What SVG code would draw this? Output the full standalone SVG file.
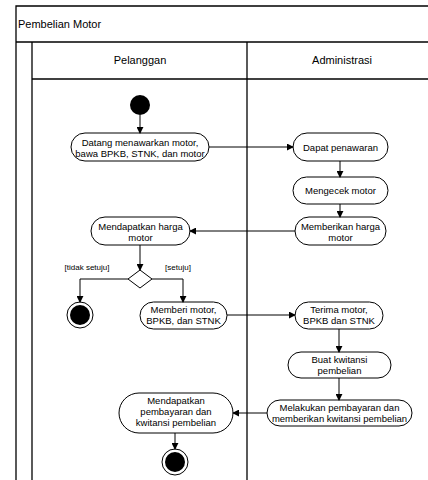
<svg xmlns="http://www.w3.org/2000/svg" width="428" height="480" viewBox="0 0 428 480">
<style>
text{font-family:"Liberation Sans",Arial,sans-serif;fill:#000}
.t{font-size:9.5px;text-anchor:middle}
.h{font-size:11px;text-anchor:middle}
.frame{stroke:#000;stroke-width:1.3;fill:none}
.node rect{fill:#fff;stroke:#000;stroke-width:1}
.c path,.c line,.c polyline{stroke:#000;stroke-width:1;fill:none;marker-end:url(#ah)}
.lbl{font-size:8px;text-anchor:middle}
</style>
<defs>
<marker id="ah" viewBox="0 0 8 8" refX="7" refY="4" markerWidth="7" markerHeight="7" markerUnits="userSpaceOnUse" orient="auto">
<path d="M0,0 L8,4 L0,8 Z" fill="#000"/>
</marker>
</defs>
<rect width="428" height="480" fill="#fff"/>
<g id="pool" class="frame">
<path d="M16,480 V6 H430"/>
<path d="M16,42 H430"/>
<path d="M32,42 V480"/>
<path d="M247,42 V480"/>
<path d="M32,79 H430"/>
</g>
<text x="18" y="28" style="font-size:11px">Pembelian Motor</text>
<text class="h" x="140" y="64">Pelanggan</text>
<text class="h" x="342" y="64">Administrasi</text>

<g id="start"><circle cx="140" cy="105" r="10" fill="#000"/></g>

<g id="n1" class="node"><rect x="71" y="133" width="138" height="28" rx="14"/>
<text class="t" x="140" y="146">Datang menawarkan motor,</text><text class="t" x="140" y="156.5">bawa BPKB, STNK, dan motor</text></g>
<g id="n2" class="node"><rect x="293" y="133" width="95" height="28" rx="14"/>
<text class="t" x="340.5" y="150.5">Dapat penawaran</text></g>
<g id="n3" class="node"><rect x="293" y="177" width="95" height="27" rx="13.5"/>
<text class="t" x="340.5" y="194">Mengecek motor</text></g>
<g id="n4" class="node"><rect x="295" y="217" width="91" height="28" rx="14"/>
<text class="t" x="340.5" y="230">Memberikan harga</text><text class="t" x="340.5" y="240.5">motor</text></g>
<g id="n5" class="node"><rect x="91" y="217" width="99" height="28" rx="14"/>
<text class="t" x="140.5" y="230">Mendapatkan harga</text><text class="t" x="140.5" y="240.5">motor</text></g>
<g id="decision"><path d="M140,270 L152,279 L140,288 L128,279 Z" fill="#fff" stroke="#000" stroke-width="1"/></g>
<g id="end1"><circle cx="80" cy="315" r="13" fill="#fff" stroke="#000" stroke-width="1"/><circle cx="80" cy="315" r="10" fill="#000"/></g>
<g id="n6" class="node"><rect x="140" y="302" width="87" height="27" rx="13.5"/>
<text class="t" x="183.5" y="313">Memberi motor,</text><text class="t" x="183.5" y="324">BPKB, dan STNK</text></g>
<g id="n7" class="node"><rect x="295" y="302" width="88" height="27" rx="13.5"/>
<text class="t" x="339" y="313">Terima motor,</text><text class="t" x="339" y="324">BPKB dan STNK</text></g>
<g id="n8" class="node"><rect x="288" y="352" width="103" height="26" rx="13"/>
<text class="t" x="339.5" y="362.5">Buat kwitansi</text><text class="t" x="339.5" y="373.5">pembelian</text></g>
<g id="n9" class="node"><rect x="267" y="400" width="145" height="26" rx="13"/>
<text class="t" x="339.5" y="410.5">Melakukan pembayaran dan</text><text class="t" x="339.5" y="421.5">memberikan kwitansi pembelian</text></g>
<g id="n10" class="node"><rect x="119" y="393" width="114" height="40" rx="20"/>
<text class="t" x="176" y="403.5">Mendapatkan</text><text class="t" x="176" y="414.5">pembayaran dan</text><text class="t" x="176" y="425.5">kwitansi pembelian</text></g>
<g id="end2"><circle cx="175" cy="462" r="13" fill="#fff" stroke="#000" stroke-width="1"/><circle cx="175" cy="462" r="10" fill="#000"/></g>

<g id="connectors" class="c">
<line x1="140" y1="115" x2="140" y2="133"/>
<line x1="209" y1="147" x2="293" y2="147"/>
<line x1="340" y1="161" x2="340" y2="177"/>
<line x1="340" y1="204" x2="340" y2="217"/>
<line x1="295" y1="231" x2="190" y2="231"/>
<line x1="140" y1="245" x2="140" y2="270"/>
<polyline points="128,279 80,279 80,302"/>
<polyline points="152,279 183,279 183,302"/>
<line x1="227" y1="315" x2="295" y2="315"/>
<line x1="339" y1="329" x2="339" y2="352"/>
<line x1="339" y1="378" x2="339" y2="400"/>
<line x1="267" y1="413" x2="233" y2="413"/>
<line x1="175" y1="433" x2="175" y2="449"/>
</g>
<text class="lbl" x="87" y="270">[tidak setuju]</text>
<text class="lbl" x="178" y="270">[setuju]</text>
</svg>
